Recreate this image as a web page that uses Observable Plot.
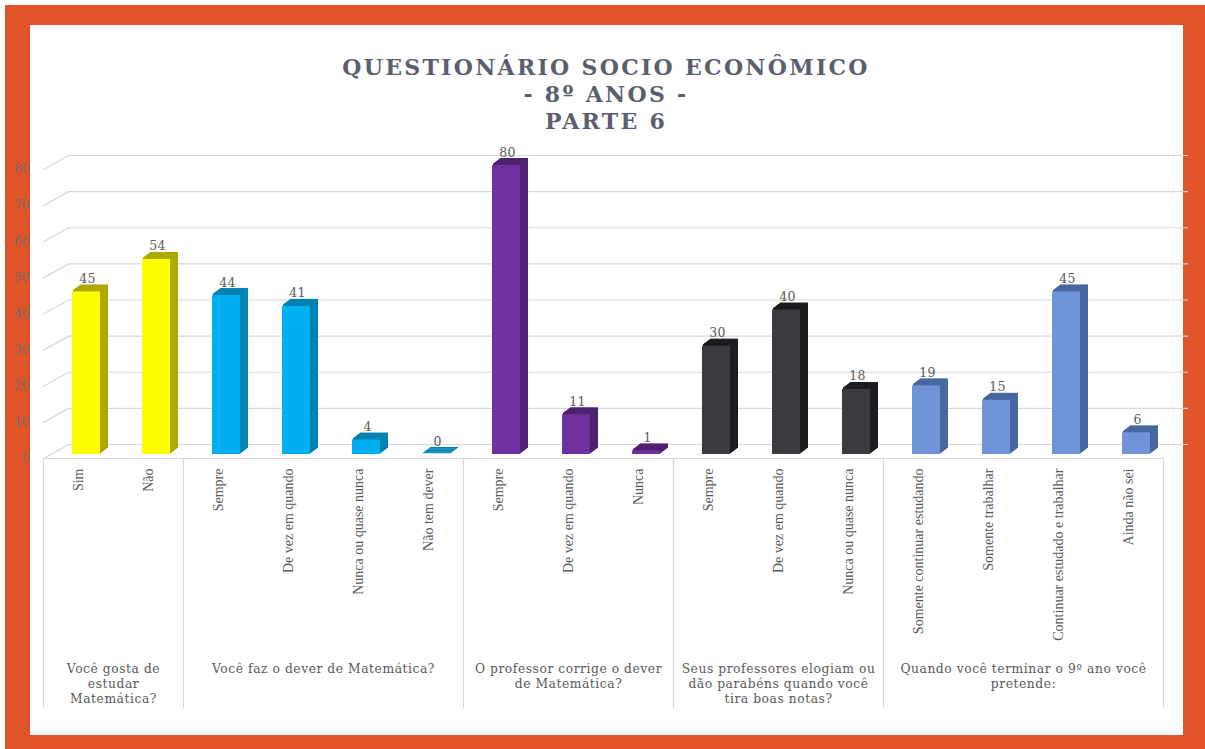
<!DOCTYPE html>
<html><head><meta charset="utf-8">
<script src="https://cdn.jsdelivr.net/npm/d3@7"></script>
<script src="https://cdn.jsdelivr.net/npm/@observablehq/plot@0.6"></script>
<style>
body{margin:0;background:#fff;width:1205px;height:749px;overflow:hidden;position:relative}
#outer{position:absolute;left:5px;top:5px;width:1200px;height:744px;background:#E05427}
#inner{position:absolute;left:30px;top:25px;width:1153px;height:710px;background:#fff}
#title{position:absolute;left:0;top:54px;width:1212px;text-align:center;font-family:"DejaVu Serif",serif;font-weight:bold;font-size:22px;color:#5A5F6E;line-height:27px;letter-spacing:2.3px}
#chart{position:absolute;left:0;top:140px}
</style></head>
<body>
<div id="outer"></div><div id="inner"></div>
<div id="title">QUESTIONÁRIO SOCIO ECONÔMICO<br>- 8º ANOS -<br>PARTE 6</div>
<div id="chart"></div>
<script>
const categories = ["Sim","Não","Sempre","De vez em quando","Nunca ou quase nunca","Não tem dever","Sempre","De vez em quando","Nunca","Sempre","De vez em quando","Nunca ou quase nunca","Somente continuar estudando","Somente trabalhar","Continuar estudado e trabalhar","Ainda não sei"];
const values = [45,54,44,41,4,0,80,11,1,30,40,18,19,15,45,6];
const groupOf = [0,0,1,1,1,1,2,2,2,3,3,3,4,4,4,4];
const groupLabels = ["Você gosta de\nestudar\nMatemática?","Você faz o dever de Matemática?","O professor corrige o dever\nde Matemática?","Seus professores elogiam ou\ndão parabéns quando você\ntira boas notas?","Quando você terminar o 9º ano você\npretende:"];
const frontColors = ["#FFFF00","#00B0F0","#7030A0","#3A3B3F","#7094D8"];
const sideColors = ["#ADA900","#0082B2","#4E2272","#1C1D20","#48679F"];
const yTicks = [0,10,20,30,40,50,60,70,80];

const rows = categories.map((c,i)=>({i, label:c, value:values[i], group:groupOf[i]}));
const groups = groupLabels.map((g,k)=>{
  const idx = rows.filter(r=>r.group===k).map(r=>r.i);
  return {k, label:g, start:d3.min(idx), end:d3.max(idx)+1};
});
const bounds = [0, ...groups.map(g=>g.end)];
const lineShape = {draw(ctx, l){ ctx.moveTo(0,0); ctx.lineTo(0,-l); }};
const serif = "'DejaVu Serif', serif";
const grid = "#D9D9D9";
const spaced = ls => function(index, scales, values, dims, context, next) {
  const g = next(index, scales, values, dims, context);
  if (g) g.setAttribute("letter-spacing", ls);
  return g;
};

const DEPTH = 8;
const sideLayers = d3.range(DEPTH, 0, -1).map(k =>
  Plot.rectY(rows, {x1: d=>d.i, x2: d=>d.i+1, y1: 0, y2: "value", insetLeft:21, insetRight:21, insetTop:-1,
    dx: 8+k, dy: -4-0.75*k, fill: d=>sideColors[d.group]})
);

const chart = Plot.plot({
  width: 1205, height: 600,
  marginLeft: 43, marginRight: 42, marginTop: 29, marginBottom: 282,
  x: {type:"linear", domain:[0,16], axis:null},
  y: {domain:[0,80], axis:null},
  color: {type:"identity"},
  style: {fontFamily: serif, background:"transparent", overflow:"visible"},
  marks: [
    Plot.ruleY(yTicks, {dx:25, dy:-14, stroke:grid, strokeWidth:1.2}),
    Plot.vector(yTicks, {y: d=>d, frameAnchor:"left", length:28.7, rotate:60.75, anchor:"start", shape:lineShape, stroke:grid, strokeWidth:1.2}),
    Plot.ruleY([0], {stroke:grid, strokeWidth:1.2}),
    Plot.vector(bounds, {x: d=>d, frameAnchor:"bottom", length:249, rotate:180, anchor:"start", shape:lineShape, stroke:grid, strokeWidth:1.2}),
    ...sideLayers,
    Plot.rectY(rows, {x1: d=>d.i, x2: d=>d.i+1, y1:0, y2:"value", insetLeft:21, insetRight:21, dx:8, dy:-4, fill: d=>frontColors[d.group]}),
    Plot.text(rows, {x: d=>d.i+0.5, y:"value", text: d=>String(d.value), dx:9, dy:-13, lineAnchor:"bottom", fontSize:12.5, fill:"#595959", fontFamily: serif, render: spaced("0.3")}),
    Plot.axisY({ticks: yTicks, tickSize:0, tickPadding:14, fontSize:12, fill:"#7A6A66", fontFamily: serif, label:null}),
    Plot.axisX({ticks: rows.map(d=>d.i+0.5), tickFormat: t=>categories[Math.floor(t)], tickRotate:-90, tickSize:0, tickPadding:10, fontSize:14, fill:"#595959", fontFamily:"'Liberation Serif', serif", label:null}),
    Plot.text(groups, {x: d=>(d.start+d.end)/2, frameAnchor:"bottom", dy:204, lineAnchor:"top", text:"label", fontSize:12.3, lineHeight:1.22, fill:"#595959", fontFamily: serif, render: spaced("0.55")})
  ]
});
document.getElementById("chart").appendChild(chart);
</script>
</body></html>
